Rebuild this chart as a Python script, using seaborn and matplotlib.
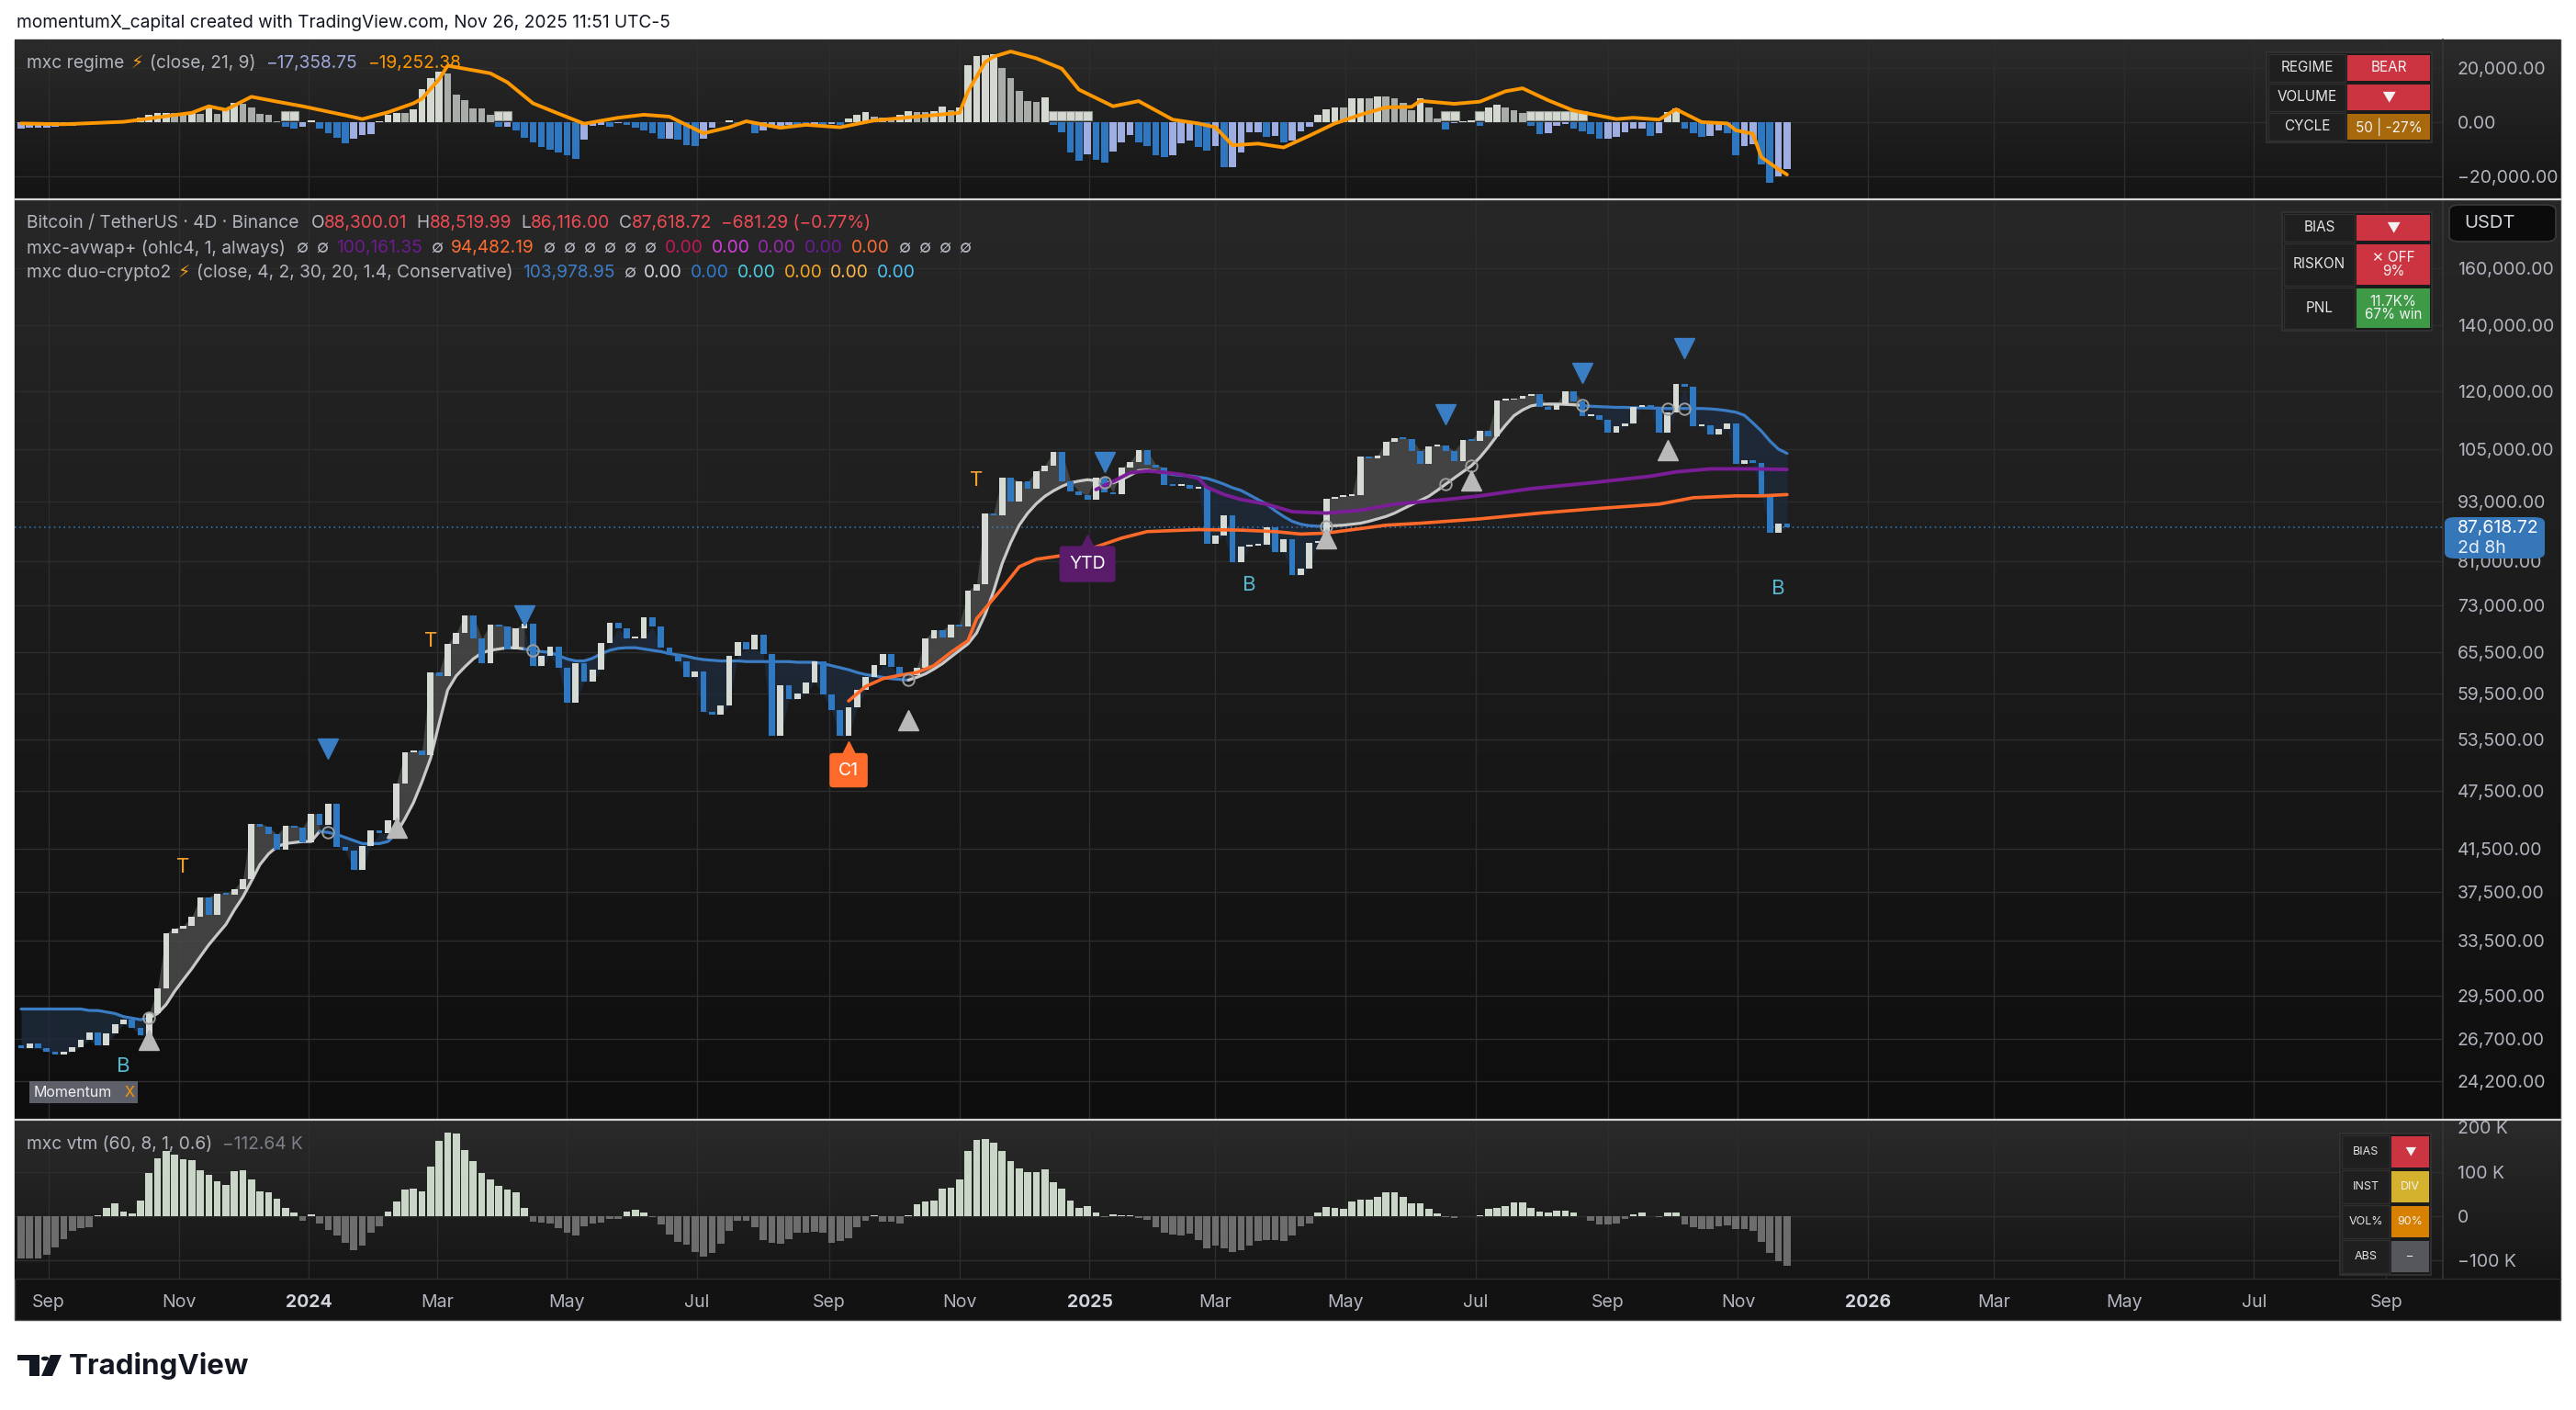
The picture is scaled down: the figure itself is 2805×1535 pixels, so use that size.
import numpy as np
import pandas as pd
import matplotlib
matplotlib.use("Agg")
import matplotlib.pyplot as plt
import matplotlib.dates as mdates
import matplotlib.transforms as mtransforms
from matplotlib.colors import LinearSegmentedColormap
from matplotlib.lines import Line2D
from matplotlib.patches import Rectangle, FancyBboxPatch, Polygon, Circle
from matplotlib.ticker import FixedLocator, NullLocator
import seaborn as sns

# ---------------- values (BTC/USDT, 4D bars) ----------------
bar_start = "2023-08-19"
first_open_k = 26.3

close_k = [
    26.1, 26.4, 26.1, 25.9, 25.75, 25.9, 26.2, 26.6, 27.1, 26.3,
    27.0, 27.6, 27.9, 27.4, 26.9, 28.3, 30.0, 34.1, 34.5, 34.7,
    35.4, 37.1, 35.6, 37.4, 37.3, 37.8, 38.7, 44.0, 43.7, 42.9,
    41.4, 43.8, 43.6, 42.1, 45.0, 43.9, 46.1, 41.7, 41.3, 39.5,
    41.8, 43.3, 43.0, 44.3, 48.3, 51.9, 52.1, 51.6, 62.5, 62.0,
    66.8, 68.5, 71.4, 67.6, 63.8, 69.9, 69.6, 66.0, 69.3, 70.0,
    63.4, 64.9, 66.4, 63.2, 58.3, 63.9, 61.2, 62.9, 67.0, 70.1,
    69.3, 67.6, 67.7, 71.0, 69.5, 66.2, 65.1, 64.2, 61.8, 62.7,
    57.0, 56.7, 57.9, 65.0, 67.1, 65.9, 68.2, 65.3, 54.0, 60.7,
    58.7, 59.5, 61.1, 64.2, 59.4, 57.3, 53.9, 57.6, 60.0, 61.8,
    63.6, 65.2, 63.3, 62.1, 62.1, 63.2, 67.6, 69.0, 67.8, 69.9,
    69.5, 75.6, 76.7, 90.5, 90.0, 98.3, 93.0, 97.4, 95.8, 99.8,
    101.1, 104.4, 97.5, 95.1, 94.3, 93.4, 98.3, 95.0, 94.5, 100.5,
    102.0, 104.7, 101.3, 100.6, 96.6, 96.5, 96.6, 95.8, 96.1, 84.3,
    86.0, 90.0, 80.7, 83.7, 84.0, 84.1, 87.5, 82.6, 85.2, 78.3,
    79.6, 84.5, 84.9, 93.6, 94.0, 94.2, 94.3, 103.2, 102.8, 103.5,
    106.8, 107.8, 107.5, 104.6, 101.5, 105.7, 106.0, 104.5, 102.2, 107.3,
    107.1, 109.6, 108.2, 117.5, 117.7, 118.0, 118.7, 119.4, 115.7, 115.0,
    116.6, 120.1, 117.4, 113.4, 113.5, 112.5, 109.2, 110.7, 111.5, 115.9,
    116.4, 115.3, 109.0, 114.4, 122.2, 121.4, 110.7, 111.0, 108.6, 110.0,
    111.5, 101.5, 102.3, 101.6, 94.5, 86.5, 88.3, 87.61872,
]

# duo-crypto2 trail line, flips colour at these bars (first segment is bearish/blue)
trail_k = [
    28.6, 28.6, 28.6, 28.6, 28.6, 28.6, 28.6, 28.6, 28.5, 28.5,
    28.4, 28.3, 28.1, 28.0, 27.9, 28.0, 28.3, 28.9, 29.8, 30.6,
    31.4, 32.3, 33.2, 34.0, 34.8, 36.0, 37.1, 38.5, 40.0, 41.0,
    41.7, 42.0, 42.1, 42.2, 42.2, 43.2, 43.1, 42.9, 42.6, 42.3,
    42.0, 42.0, 42.0, 42.2, 43.0, 44.5, 46.2, 48.5, 51.2, 55.5,
    60.0, 62.0, 63.3, 64.5, 65.4, 65.8, 66.0, 66.2, 66.2, 66.0,
    65.8, 65.6, 65.5, 65.0, 64.5, 64.2, 64.2, 64.6, 65.3, 65.8,
    66.1, 66.2, 66.2, 66.0, 65.8, 65.6, 65.3, 65.1, 64.9, 64.6,
    64.4, 64.3, 64.2, 64.2, 64.2, 64.1, 64.1, 64.1, 64.1, 64.1,
    64.1, 64.0, 64.0, 64.0, 63.8, 63.5, 63.2, 62.9, 62.5, 62.2,
    62.0, 61.8, 61.6, 61.5, 61.4, 61.8, 62.3, 63.0, 63.8, 64.8,
    65.8, 66.8, 68.5, 71.5, 75.5, 80.5, 84.5, 88.0, 90.5, 92.5,
    94.1, 95.3, 96.3, 97.1, 97.5, 97.8, 97.6, 97.3, 97.1, 97.8,
    98.8, 99.9, 100.0, 99.7, 99.4, 99.0, 98.8, 98.7, 98.4, 98.1,
    97.5, 96.8, 96.0, 95.4, 94.4, 93.4, 92.4, 91.0, 89.8, 88.8,
    88.2, 87.9, 87.8, 87.8, 87.9, 88.0, 88.2, 88.4, 88.8, 89.3,
    89.8, 90.5, 91.4, 92.3, 93.2, 94.1, 95.4, 96.8, 98.2, 99.6,
    101.0, 103.0, 105.5, 108.3, 111.0, 113.5, 115.0, 116.1, 116.5, 116.6,
    116.6, 116.5, 116.4, 116.2, 116.0, 115.9, 115.8, 115.7, 115.7, 115.6,
    115.6, 115.5, 115.5, 115.4, 115.4, 115.4, 115.4, 115.4, 115.3, 115.1,
    114.8, 114.4, 113.6, 111.6, 109.5, 107.0, 105.0, 103.97895,
]
trail_flips = [15, 35, 44, 59, 104, 134, 153, 183]

orange_idx = [97, 99, 101, 103, 105, 107, 109, 111, 112, 113, 115, 117, 119, 122, 125, 129,
              132, 138, 143, 147, 150, 153, 157, 160, 164, 171, 178, 185, 192, 196, 201, 204, 207]
orange_k = [58.5, 60.5, 61.6, 62.1, 62.5, 63.5, 65.5, 67.3, 70.8, 72.5, 76.0, 79.9, 81.3, 82.0, 83.1, 85.4,
            86.7, 87.1, 87.0, 86.7, 86.2, 86.4, 87.3, 88.0, 88.4, 89.3, 90.5, 91.5, 92.4, 93.8, 94.2, 94.2, 94.48219]
purple_idx = [126, 128, 130, 132, 134, 136, 138, 139, 141, 143, 146, 149, 153, 157, 161, 167,
              171, 177, 184, 191, 194, 198, 203, 207]
purple_k = [95.6, 97.4, 99.4, 99.8, 99.5, 99.0, 98.1, 96.1, 94.5, 93.4, 92.4, 90.8, 90.5, 91.1, 92.4, 93.4,
            94.2, 95.8, 97.1, 98.6, 99.6, 100.3, 100.3, 100.16135]

sell_idx = [36, 59, 127, 167, 183, 195]
sell_k = [52.4, 71.4, 101.9, 113.8, 125.3, 132.7]
buy_idx = [15, 44, 104, 153, 170, 193]
buy_k = [26.6, 43.6, 55.9, 85.4, 97.7, 104.7]
t_idx = [19, 48, 112]
t_k = [39.8, 67.2, 97.7]
b_idx = [12, 144, 206]
b_k = [25.0, 76.5, 75.9]
ring_idx = [15, 36, 60, 104, 127, 153, 167, 170, 183, 193, 195]
c1_at = (97, 49.8)
ytd_at = (125, 80.4)
last_price = 87618.72

# mxc regime histogram and signal (thousands)
regime_k = [
    -2.4, -2.2, -2.0, -2.0, -1.8, -1.5, -1.3, -1.0, -0.8, -0.6,
    -0.4, -0.2, 0.3, 0.5, 1.5, 2.8, 3.3, 3.5, 3.5, 3.5,
    3.6, 3.0, 5.6, 3.1, 4.6, 7.0, 6.8, 5.3, 3.1, 2.8,
    0.3, -1.6, -2.4, -1.6, 0.5, -2.5, -4.0, -5.7, -7.7, -6.0,
    -4.6, -4.3, 0.3, 2.7, 3.4, 3.4, 4.7, 12.2, 16.3, 18.5,
    17.9, 10.2, 8.0, 5.0, 5.0, 2.5, -1.6, -1.6, -3.0, -5.7,
    -7.3, -9.0, -10.3, -11.2, -12.3, -13.6, -6.6, -1.3, -1.0, -1.6,
    -0.5, -1.2, -1.9, -3.0, -4.0, -6.0, -6.0, -6.6, -8.3, -8.7,
    -6.0, -1.9, 0.1, 0.5, -0.2, -0.5, -4.0, -3.2, -1.9, -1.3,
    -1.0, -1.1, -1.6, -1.0, -1.6, -0.8, -1.0, 1.4, 2.7, 3.6,
    2.0, 1.6, 0.9, 2.5, 4.0, 3.8, 3.8, 4.0, 5.6, 4.5,
    5.2, 20.7, 24.2, 24.5, 24.8, 20.0, 16.0, 11.3, 7.7, 7.4,
    9.0, -1.0, -3.8, -11.3, -14.3, -11.8, -14.0, -15.0, -10.7, -7.4,
    -4.7, -7.4, -8.7, -12.3, -13.0, -12.0, -7.7, -6.8, -9.0, -10.4,
    -8.8, -16.4, -16.4, -11.3, -3.8, -3.8, -5.4, -5.0, -7.4, -6.8,
    -3.5, -1.6, 2.7, 4.7, 5.5, 5.5, 8.6, 8.9, 8.9, 9.4,
    9.4, 8.7, 6.9, 4.2, 8.9, 5.4, 1.4, -2.7, -0.5, 0.3,
    0.8, -1.5, 5.3, 6.3, 5.5, 4.4, 3.3, -1.3, -4.3, -4.0,
    -1.3, -0.8, -2.4, -3.3, -4.3, -6.0, -6.0, -5.4, -3.7, -2.4,
    -2.4, -5.0, -4.0, 3.6, 5.0, -2.4, -4.0, -5.4, -5.0, -3.0,
    -4.0, -12.0, -8.7, -8.0, -15.6, -22.2, -19.8, -17.35875,
]
regime_dots = [31, 32, 56, 57, 121, 122, 123, 124, 125, 167, 168, 171, 177, 178, 179, 180, 181, 182, 183]
regime_dot_k = 2.2
signal_idx = [0, 5, 12, 14, 20, 22, 24, 27, 30, 33, 38, 40, 43, 46, 47, 49, 50, 55, 57, 60, 63, 66,
              70, 73, 76, 80, 83, 85, 89, 92, 96, 100, 105, 110, 111, 113, 114, 116, 119, 122, 124, 128,
              131, 135, 138, 140, 142, 145, 148, 151, 154, 157, 160, 163, 164, 168, 171, 174, 176, 179,
              182, 187, 189, 192, 194, 197, 200, 201, 203, 204, 206, 207]
signal_k = [-0.5, -0.8, 0.1, 0.9, 3.4, 5.8, 4.5, 9.3, 7.5, 5.8, 2.5, 1.1, 3.6, 6.9, 8.6, 15.7, 20.7, 17.9,
            14.6, 6.9, 3.1, -0.6, 1.6, 2.7, 2.0, -4.1, -1.9, 0.3, -2.1, -1.0, -1.9, 0.6, 2.0, 3.4, 11.3,
            22.0, 24.0, 25.9, 23.4, 19.6, 11.9, 5.8, 7.7, 0.9, -0.5, -1.9, -8.5, -7.9, -9.3, -5.0, -0.5,
            2.7, 5.4, 5.6, 7.8, 6.7, 7.5, 11.3, 12.4, 8.0, 4.2, 1.1, 1.6, 0.9, 4.7, 0.0, -0.5, -3.0, -4.3,
            -12.9, -17.3, -19.25238]

# mxc vtm histogram (thousands)
vtm_k = [
    -96, -96, -96, -88, -71, -53, -34, -27, -25, 2,
    19, 28, 11, 5, 34, 97, 131, 147, 139, 129,
    125, 104, 93, 78, 70, 102, 104, 83, 56, 54,
    40, 19, 7, -10, 4, -17, -32, -44, -61, -77,
    -66, -38, -22, 11, 33, 59, 61, 56, 112, 169,
    188, 186, 148, 123, 96, 83, 69, 59, 53, 19,
    -12, -14, -17, -27, -37, -43, -24, -17, -15, -7,
    -7, 11, 14, 8, -3, -19, -41, -59, -65, -81,
    -91, -83, -62, -34, -10, -10, -26, -54, -60, -63,
    -52, -38, -38, -36, -38, -60, -57, -50, -26, -10,
    2, -12, -13, -17, 2, 26, 33, 34, 62, 64,
    83, 146, 172, 174, 166, 146, 123, 107, 100, 100,
    106, 77, 62, 35, 19, 23, 9, -3, 4, 2,
    2, -5, -8, -26, -38, -41, -44, -39, -54, -72,
    -66, -72, -81, -77, -67, -57, -55, -54, -57, -44,
    -24, -17, 9, 21, 19, 17, 33, 38, 38, 43,
    54, 54, 43, 28, 28, 16, 6, -3, -5, -1,
    0, 1, 17, 19, 23, 30, 30, 19, 10, 8,
    13, 13, 8, -1, -10, -19, -19, -17, -6, 4,
    7, -1, -3, 9, 9, -19, -26, -29, -29, -22,
    -20, -29, -29, -34, -59, -84, -101, -112.64,
]

price_ticks = [24200, 26700, 29500, 33500, 37500, 41500, 47500, 53500, 59500, 65500,
               73000, 81000, 93000, 105000, 120000, 140000, 160000]
regime_ticks = [-20000, 0, 20000]
vtm_ticks = [-100000, 0, 100000, 200000]
vtm_tick_labels = ["\u2212100 K", "0", "100 K", "200 K"]
month_ticks = ["2023-09-01", "2023-11-01", "2024-01-01", "2024-03-01", "2024-05-01", "2024-07-01",
               "2024-09-01", "2024-11-01", "2025-01-01", "2025-03-01", "2025-05-01", "2025-07-01",
               "2025-09-01", "2025-11-01", "2026-01-01", "2026-03-01", "2026-05-01", "2026-07-01",
               "2026-09-01"]
month_labels = ["Sep", "Nov", "2024", "Mar", "May", "Jul", "Sep", "Nov", "2025", "Mar", "May", "Jul",
                "Sep", "Nov", "2026", "Mar", "May", "Jul", "Sep"]

# ---------------- setup ----------------
sns.set_theme(style="dark")
plt.rcParams["font.family"] = ["Inter", "DejaVu Sans"]
plt.rcParams["axes.unicode_minus"] = True

W, H = 2805, 1535
fig = plt.figure(figsize=(W / 100, H / 100), dpi=100)
fig.patch.set_facecolor("white")


def fx(px):
    return px / W


def fy(py):
    return 1 - py / H


def rect_px(x0, y0, x1, y1):
    return [fx(x0), fy(y1), (x1 - x0) / W, (y1 - y0) / H]


def ftext(x, y, s, **kw):
    kw.setdefault("va", "center")
    kw.setdefault("zorder", 9)
    return fig.text(fx(x), fy(y), s, **kw)


def fbox(x0, y0, x1, y1, fc, ec="none", lw=0, z=6, rounded=False):
    if rounded:
        p = FancyBboxPatch((fx(x0), fy(y1)), (x1 - x0) / W, (y1 - y0) / H,
                           boxstyle="round,pad=0,rounding_size=0.004", transform=fig.transFigure,
                           fc=fc, ec=ec, lw=lw, zorder=z)
    else:
        p = Rectangle((fx(x0), fy(y1)), (x1 - x0) / W, (y1 - y0) / H, transform=fig.transFigure,
                      fc=fc, ec=ec, lw=lw, zorder=z)
    fig.add_artist(p)
    return p


GREY = "#b2b5be"
AXIS_TXT = "#b2b5be"

# dark chart frame
fbox(16, 43, 2788, 1437, "#121212", ec="#4a4a4a", lw=1, z=-6)

# gradient panel backgrounds
for (t, b, c0, c1) in [(43, 216, "#2b2b2b", "#141414"),
                       (218, 1218, "#272727", "#0e0e0e"),
                       (1220, 1392, "#2b2b2b", "#151515")]:
    bg = fig.add_axes(rect_px(16, t, 2788, b), zorder=-3)
    cmap = LinearSegmentedColormap.from_list("g", [c0, c1])
    bg.imshow(np.linspace(0, 1, 256)[:, None], aspect="auto", cmap=cmap, extent=[0, 1, 0, 1], origin="upper")
    bg.axis("off")

# panel separators
for yy, col, lw in [(217, "#d6d6d6", 1.6), (1219, "#d6d6d6", 1.6), (1392, "#2e2e2e", 1.0)]:
    fig.add_artist(Line2D([fx(16), fx(2788)], [fy(yy), fy(yy)], color=col, lw=lw, zorder=8))

dates = pd.date_range(bar_start, periods=len(close_k), freq="4D")
xd = mdates.date2num(dates)
n = len(xd)
close = np.array(close_k) * 1e3
open_ = np.r_[first_open_k * 1e3, close[:-1]]
body_lo = np.minimum(open_, close)
body_hi = np.maximum(open_, close)
trail = np.array(trail_k) * 1e3

xlim = (mdates.date2num(pd.Timestamp("2023-08-16")), mdates.date2num(pd.Timestamp("2026-09-27 12:00")))
mt = mdates.date2num(pd.to_datetime(month_ticks))

ax_top = fig.add_axes(rect_px(16, 43, 2660, 216), zorder=1)
ax = fig.add_axes(rect_px(16, 218, 2660, 1218), zorder=1)
ax_vol = fig.add_axes(rect_px(16, 1220, 2660, 1392), zorder=1)

for a in (ax_top, ax, ax_vol):
    a.set_facecolor("none")
    for s in ("left", "top", "bottom"):
        a.spines[s].set_visible(False)
    a.spines["right"].set_color("#363636")
    a.spines["right"].set_linewidth(1.2)
    a.set_xlim(*xlim)
    a.xaxis.set_major_locator(FixedLocator(mt))
    a.yaxis.tick_right()
    a.tick_params(axis="y", length=0, pad=11.5, labelsize=14, labelcolor=AXIS_TXT)
    a.tick_params(axis="x", length=0)
    a.grid(True, color="#2d2d2d", lw=1)
    a.set_axisbelow(True)
    a.set_xlabel("")
    a.set_ylabel("")

ax_top.tick_params(axis="x", labelbottom=False)
ax.tick_params(axis="x", labelbottom=False)

# ---------------- main price pane ----------------
ax.set_yscale("log")
ax.set_ylim(22160, 187200)
ax.yaxis.set_major_locator(FixedLocator(price_ticks))
ax.yaxis.set_minor_locator(NullLocator())
ax.set_yticklabels([f"{v:,.2f}" for v in price_ticks])

bounds = [0] + trail_flips + [n - 1]
for k in range(len(bounds) - 1):
    s = slice(bounds[k], bounds[k + 1] + 1)
    up = k % 2 == 1
    edge = body_hi if up else body_lo
    ax.fill_between(xd[s], trail[s], edge[s], color="#4a4a4a" if up else "#1e2a3a",
                    alpha=0.85, lw=0, zorder=1)
    sns.lineplot(x=xd[s], y=trail[s], ax=ax, color="#c9c9c9" if up else "#3b7dc4",
                 lw=2.3, zorder=3, legend=False, sort=False, estimator=None)

heights = np.maximum(body_hi - body_lo, body_lo * 0.004)
bar_cols = np.where(close >= open_, "#d6dad4", "#2f78c2")
ax.bar(xd, heights, bottom=body_lo, width=2.9, color=bar_cols, lw=0, zorder=4)

sns.lineplot(x=xd[orange_idx], y=np.array(orange_k) * 1e3, ax=ax, color="#ff6a2b", lw=2.6,
             zorder=5, legend=False, sort=False, estimator=None)
sns.lineplot(x=xd[purple_idx], y=np.array(purple_k) * 1e3, ax=ax, color="#7a1d96", lw=2.8,
             zorder=5, legend=False, sort=False, estimator=None)

ax.axhline(last_price, color="#3a7ec5", lw=1.1, ls=(0, (1, 2.5)), zorder=2)

ax.plot(xd[ring_idx], trail[ring_idx], "o", mfc="none", mec="#9d9d9d", mew=1.4, ms=9, zorder=6)
ax.plot(xd[sell_idx], np.array(sell_k) * 1e3, "v", color="#3a7ec5", ms=16, ls="none", zorder=6)
ax.plot(xd[buy_idx], np.array(buy_k) * 1e3, "^", color="#b9b9b9", ms=16, ls="none", zorder=6)
for i, v in zip(t_idx, t_k):
    ax.text(xd[i], v * 1e3, "T", color="#f2a02f", fontsize=16, ha="center", va="center", zorder=6)
for i, v in zip(b_idx, b_k):
    ax.text(xd[i], v * 1e3, "B", color="#56b8d0", fontsize=16, ha="center", va="center", zorder=6)

for (i, v), label, col, w in [(c1_at, "C1", "#ff6b2b", 0.5), (ytd_at, "YTD", "#5a1b6b", 0.55)]:
    ax.text(xd[i], v * 1e3, label, color="white", fontsize=14, ha="center", va="center", zorder=7,
            bbox=dict(boxstyle=f"round,pad={w},rounding_size=0.2", fc=col, ec="none"))
    tr = mtransforms.offset_copy(ax.transData, fig=fig, y=25, units="dots")
    ax.plot(xd[i], v * 1e3, "^", color=col, ms=10, transform=tr, zorder=7)

# ---------------- regime pane ----------------
reg = np.array(regime_k) * 1e3
reg_cols = []
for i, v in enumerate(reg):
    d = v - (reg[i - 1] if i else v)
    if v >= 0:
        reg_cols.append("#d3d8d1" if d > 0 else "#a9adaa")
    else:
        reg_cols.append("#9eaee3" if d >= 0 else "#2f78c1")
ax_top.bar(xd, reg, width=3.3, color=reg_cols, lw=0, zorder=2)
ax_top.plot(xd[regime_dots], np.full(len(regime_dots), regime_dot_k * 1e3), "s", mfc="#d3d8d1",
            mec="#8f938f", mew=0.8, ms=6.5, zorder=3)
sns.lineplot(x=xd[signal_idx], y=np.array(signal_k) * 1e3, ax=ax_top, color="#ff9800", lw=2.8,
             zorder=4, legend=False, sort=False, estimator=None)
ax_top.set_ylim(-28000, 30300)
ax_top.yaxis.set_major_locator(FixedLocator(regime_ticks))
ax_top.set_yticklabels([f"{v:,.2f}".replace("-", "\u2212") for v in regime_ticks])

# ---------------- vtm pane ----------------
vtm = np.array(vtm_k) * 1e3
ax_vol.bar(xd, vtm, width=3.3, color=np.where(vtm >= 0, "#c9d6c8", "#6d6d6d"), lw=0, zorder=2)
ax_vol.set_ylim(-141000, 215000)
ax_vol.yaxis.set_major_locator(FixedLocator(vtm_ticks))
ax_vol.set_yticklabels(vtm_tick_labels)
ax_vol.set_xticklabels(month_labels)
ax_vol.tick_params(axis="x", pad=12, labelsize=14, labelcolor=AXIS_TXT)
for lab in ax_vol.get_xticklabels():
    if lab.get_text().isdigit():
        lab.set_fontweight("bold")
        lab.set_color("#d1d4dc")

# ---------------- legends (multi-coloured runs) ----------------
renderer = fig.canvas.get_renderer()


def runs(x, y, parts, size=13.8):
    for s, c, gap in parts:
        t = ftext(x, y, s, color=c, fontsize=size, ha="left")
        x += t.get_window_extent(renderer).width + gap


RED = "#ef4b55"
E = "\u2205"
runs(29, 69, [("mxc regime", GREY, 7), ("\u26a1", "#f7a21b", 7), ("(close, 21, 9)", GREY, 11),
              ("\u221217,358.75", "#9fa8da", 11), ("\u221219,252.38", "#ff9800", 0)])
runs(29, 243, [("Bitcoin / TetherUS \u00b7 4D \u00b7 Binance", GREY, 13), ("O", GREY, 0), ("88,300.01", RED, 10),
               ("H", GREY, 0), ("88,519.99", RED, 10), ("L", GREY, 0), ("86,116.00", RED, 10),
               ("C", GREY, 0), ("87,618.72", RED, 10), ("\u2212681.29 (\u22120.77%)", RED, 0)])
runs(29, 270, [("mxc-avwap+ (ohlc4, 1, always)", GREY, 11), (E, GREY, 9), (E, GREY, 9),
               ("100,161.35", "#6d1b8f", 9), (E, GREY, 9), ("94,482.19", "#ff6d2e", 9)]
     + [(E, GREY, 9)] * 6
     + [("0.00", "#c2185b", 9), ("0.00", "#d63be0", 9), ("0.00", "#9c27b0", 9), ("0.00", "#6a1b9a", 9),
        ("0.00", "#ff6d2e", 9)] + [(E, GREY, 9)] * 4)
runs(29, 297, [("mxc duo-crypto2", GREY, 7), ("\u26a1", "#f7a21b", 7),
               ("(close, 4, 2, 30, 20, 1.4, Conservative)", GREY, 11), ("103,978.95", "#3d7ec6", 9),
               (E, GREY, 9), ("0.00", "#d1d4dc", 9), ("0.00", "#2e7bd0", 9), ("0.00", "#4dd0e1", 9),
               ("0.00", "#f5a623", 9), ("0.00", "#ffb74d", 9), ("0.00", "#4fc3f7", 0)])
runs(29, 1246, [("mxc vtm (60, 8, 1, 0.6)", GREY, 11), ("\u2212112.64 K", "#7d8089", 0)])

# ---------------- tables ----------------


def table(x0, wl, wv, rows, fs):
    y_top, y_bot = rows[0][0], rows[-1][0] + rows[-1][1]
    fbox(x0 - 2, y_top - 2, x0 + wl + wv + 4, y_bot + 2, "#1b1b1b", ec="#343434", lw=1.2, z=6)
    for (y, h, lab, val, col) in rows:
        fbox(x0, y, x0 + wl, y + h, "#1f1f1f", ec="#2f2f2f", lw=1, z=6)
        fbox(x0 + wl + 2, y + 1, x0 + wl + wv + 2, y + h - 1, col, z=6)
        ftext(x0 + wl / 2, y + h / 2, lab, color="#e6e6e6", fontsize=fs, ha="center")
        ftext(x0 + wl + 2 + wv / 2, y + h / 2, val, color="#f2f2f2", fontsize=fs, ha="center",
              linespacing=0.95)


RED_C, GREEN_C = "#cc3441", "#3f9a48"
table(2470, 84, 90, [(59, 30, "REGIME", "BEAR", RED_C), (91, 30, "VOLUME", "\u25bc", RED_C),
                     (123, 30, "CYCLE", "50 | -27%", "#a8690c")], 11)
table(2487, 77, 80, [(233, 30, "BIAS", "\u25bc", RED_C), (265, 46, "RISKON", "\u2715 OFF\n9%", RED_C),
                     (313, 45, "PNL", "11.7K%\n67% win", GREEN_C)], 11)
table(2550, 52, 41, [(1236, 36, "BIAS", "\u25bc", RED_C), (1274, 36, "INST", "DIV", "#d4b22e"),
                     (1312, 36, "VOL%", "90%", "#d88000"), (1350, 36, "ABS", "\u2013", "#55575d")], 9)

# USDT tag and last-price label on the price scale
fbox(2667, 223, 2783, 263, "#0b0b0b", ec="#3a3a3a", lw=1.2, z=10, rounded=True)
ftext(2683, 243, "USDT", color="#d1d4dc", fontsize=14.5, ha="left", zorder=11)
fbox(2662, 563, 2771, 608, "#3677ba", z=10, rounded=True)
ftext(2676, 575, f"{last_price:,.2f}", color="white", fontsize=14, ha="left", zorder=11)
ftext(2676, 597, "2d 8h", color="#e8eef7", fontsize=14, ha="left", zorder=11)

# momentum tag
fbox(32, 1177, 150, 1201, "#5d6069", z=10)
ftext(37, 1189, "Momentum", color="#f0f0f0", fontsize=11.5, ha="left", zorder=11)
ftext(136, 1189, "X", color="#ff9800", fontsize=11.5, ha="left", zorder=11)

# header and footer
ftext(18, 25, "momentumX_capital created with TradingView.com, Nov 26, 2025 11:51 UTC-5",
      color="#131722", fontsize=13.8, ha="left")
fbox(19, 1475, 43, 1481, "#131722", z=10)
fbox(32, 1475, 43, 1498, "#131722", z=10)
fig.add_artist(Circle((fx(49), fy(1479)), 4.2 / W, transform=fig.transFigure, fc="#131722", ec="none", zorder=10))
fig.add_artist(Polygon([(fx(55), fy(1475)), (fx(67), fy(1475)), (fx(57), fy(1498)), (fx(45), fy(1498))],
                       closed=True, transform=fig.transFigure, fc="#131722", ec="none", zorder=10))
ftext(75, 1487, "TradingView", color="#131722", fontsize=22.5, fontweight="bold", ha="left")

fig.savefig("out.png", dpi=100, facecolor="white")
